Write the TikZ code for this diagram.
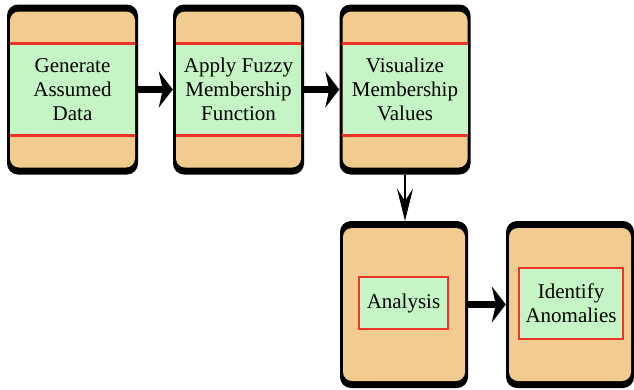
\documentclass[tikz,border=0pt]{standalone}
\usepackage{fontspec}
\setmainfont{LiberationSerif}[Extension=.ttf,UprightFont=*-Regular,BoldFont=*-Bold]
\usetikzlibrary{arrows.meta}
\definecolor{boxorange}{HTML}{F2CC8E}
\definecolor{bandgreen}{HTML}{C5F5C5}
\definecolor{bandred}{HTML}{EE3328}
\begin{document}
\begin{tikzpicture}[x=1pt,y=-1pt,
    stageback/.style={fill=black,rounded corners=11pt,minimum width=131pt,minimum height=170pt,inner sep=0pt},
    stagefill/.style={fill=boxorange,rounded corners=9pt,minimum width=125pt,minimum height=156pt,inner sep=0pt},
    lowback/.style={stageback,minimum width=128pt,minimum height=167pt},
    lowfill/.style={stagefill,minimum width=122pt,minimum height=153pt},
    band/.style={fill=bandgreen,minimum width=125pt,minimum height=91pt,inner sep=0pt,align=center,
      font=\fontsize{21}{24}\selectfont},
    redline/.style={draw=bandred,line width=3pt},
    tagbox/.style={fill=bandgreen,draw=bandred,line width=2.5pt,inner sep=0pt,align=center,
      font=\fontsize{21}{24}\selectfont},
    bigarrow/.style={-{Stealth[length=14pt,width=36pt,inset=4pt]},line width=7pt},
    downarrow/.style={-{Stealth[length=32pt,width=16pt,inset=12pt]},line width=2.5pt}]
  \useasboundingbox (0,0) rectangle (634,389);

  % 上段の3つの箱
  \node[stageback] (s1) at (72.5,89.5) {};
  \node[stagefill] at (s1) {};
  \node[band] (t1) at (s1) {Generate\\Assumed\\Data};
  \draw[redline] (t1.north west) -- (t1.north east);
  \draw[redline] (t1.south west) -- (t1.south east);

  \node[stageback] (s2) at (238.5,89.5) {};
  \node[stagefill] at (s2) {};
  \node[band] (t2) at (s2) {Apply Fuzzy\\Membership\\Function};
  \draw[redline] (t2.north west) -- (t2.north east);
  \draw[redline] (t2.south west) -- (t2.south east);

  \node[stageback] (s3) at (405,89.5) {};
  \node[stagefill] at (s3) {};
  \node[band] (t3) at (s3) {Visualize\\Membership\\Values};
  \draw[redline] (t3.north west) -- (t3.north east);
  \draw[redline] (t3.south west) -- (t3.south east);

  % 下段の2つの箱
  \node[lowback] (s4) at (404,304.5) {};
  \node[lowfill] at (s4) {};
  \node[tagbox,minimum width=89pt,minimum height=52pt] (t4) at (403.5,303) {Analysis};

  \node[lowback] (s5) at (570,304.5) {};
  \node[lowfill] at (s5) {};
  \node[tagbox,minimum width=104pt,minimum height=71pt] (t5) at (571,303.5) {Identify\\Anomalies};

  % 矢印
  \draw[bigarrow] (s1.east) -- (s2.west);
  \draw[bigarrow] (s2.east) -- (s3.west);
  \draw[downarrow] (s3.south) -- (s3.south |- s4.north);
  \draw[bigarrow] (s4.east) -- (s5.west);
\end{tikzpicture}
\end{document}
